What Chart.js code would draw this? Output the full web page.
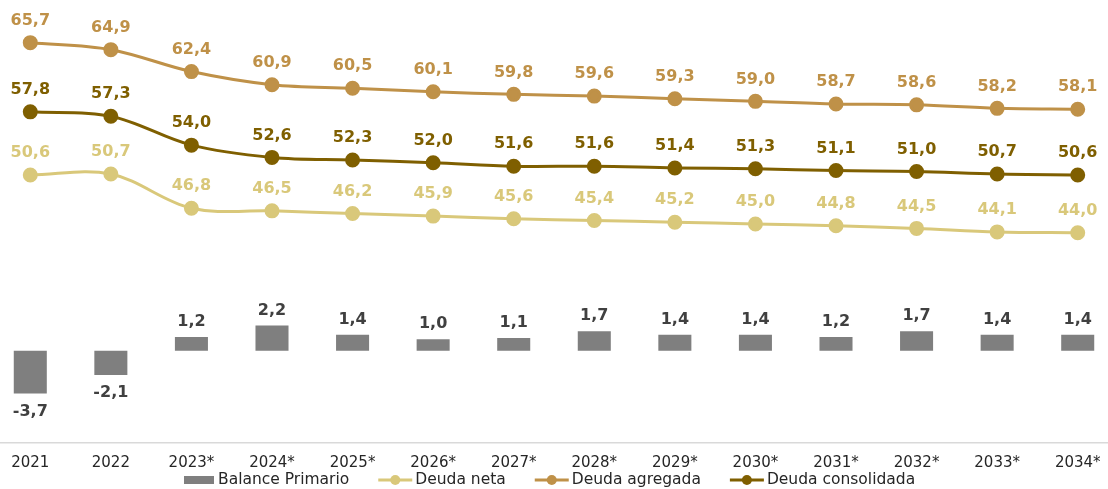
<!DOCTYPE html>
<html>
<head>
<meta charset="utf-8">
<script src="https://cdn.jsdelivr.net/npm/chart.js@4.4.0/dist/chart.umd.min.js"></script>
<style>
  html, body { margin: 0; padding: 0; background: #fff; overflow: hidden; }
  #wrap { position: absolute; left: -10px; top: 0; width: 1128px; height: 489px; }
</style>
</head>
<body>
<div id="wrap"><canvas id="c"></canvas></div>
<script>
const categories = ['2021','2022','2023*','2024*','2025*','2026*','2027*','2028*','2029*','2030*','2031*','2032*','2033*','2034*'];
const balancePrimario = [-3.7, -2.1, 1.2, 2.2, 1.4, 1.0, 1.1, 1.7, 1.4, 1.4, 1.2, 1.7, 1.4, 1.4];
const deudaNeta = [50.6, 50.7, 46.8, 46.5, 46.2, 45.9, 45.6, 45.4, 45.2, 45.0, 44.8, 44.5, 44.1, 44.0];
const deudaAgregada = [65.7, 64.9, 62.4, 60.9, 60.5, 60.1, 59.8, 59.6, 59.3, 59.0, 58.7, 58.6, 58.2, 58.1];
const deudaConsolidada = [57.8, 57.3, 54.0, 52.6, 52.3, 52.0, 51.6, 51.6, 51.4, 51.3, 51.1, 51.0, 50.7, 50.6];

const C_BAR = '#7f7f7f', C_NETA = '#d9c87a', C_AGR = '#bf9148', C_CONS = '#7f5f00';
const FONT = "'DejaVu Sans', Verdana, sans-serif";

function fmt(v) { return v.toFixed(1).replace('.', ','); }

const labelPlugin = {
  id: 'valueLabels',
  afterDatasetsDraw(chart) {
    const ctx = chart.ctx;
    ctx.save();
    ctx.font = 'bold 16px ' + FONT;
    ctx.textAlign = 'center';
    ctx.textBaseline = 'middle';
    chart.data.datasets.forEach((ds, i) => {
      const meta = chart.getDatasetMeta(i);
      meta.data.forEach((el, j) => {
        const v = ds.data[j];
        let y;
        if (ds.type === 'bar') {
          ctx.fillStyle = '#404040';
          y = v >= 0 ? el.y - 15 : el.y + 18;
        } else {
          ctx.fillStyle = ds.borderColor;
          y = el.y - 22;
        }
        ctx.fillText(fmt(v), el.x, y);
      });
    });
    ctx.restore();
  }
};

const legendPlugin = {
  id: 'customLegend',
  afterDraw(chart) {
    const ctx = chart.ctx;
    ctx.save();
    ctx.font = '15.5px ' + FONT;
    ctx.textBaseline = 'middle';
    ctx.textAlign = 'left';
    const yc = 480;
    let x = 194;
    const items = [
      {t: 'Balance Primario', kind: 'box', c: C_BAR},
      {t: 'Deuda neta', kind: 'line', c: C_NETA},
      {t: 'Deuda agregada', kind: 'line', c: C_AGR},
      {t: 'Deuda consolidada', kind: 'line', c: C_CONS}
    ];
    items.forEach(it => {
      if (it.kind === 'box') {
        ctx.fillStyle = it.c;
        ctx.fillRect(x, yc - 4, 30, 8);
        x += 34;
      } else {
        ctx.strokeStyle = it.c;
        ctx.lineWidth = 3;
        ctx.beginPath();
        ctx.moveTo(x, yc);
        ctx.lineTo(x + 34, yc);
        ctx.stroke();
        ctx.fillStyle = it.c;
        ctx.beginPath();
        ctx.arc(x + 17, yc, 5, 0, Math.PI * 2);
        ctx.fill();
        x += 37;
      }
      ctx.fillStyle = '#262626';
      ctx.fillText(it.t, x, yc);
      x += ctx.measureText(it.t).width + 29;
    });
    ctx.restore();
  }
};

function lineDs(label, data, color) {
  return {
    type: 'line', label, data, yAxisID: 'y1',
    borderColor: color, backgroundColor: color,
    borderWidth: 3, pointRadius: 6, pointHoverRadius: 6,
    pointBackgroundColor: color, pointBorderColor: color,
    tension: 0.35, fill: false, order: 1
  };
}

new Chart(document.getElementById('c'), {
  data: {
    labels: categories,
    datasets: [
      { type: 'bar', label: 'Balance Primario', data: balancePrimario, yAxisID: 'y',
        backgroundColor: C_BAR, barPercentage: 0.41, categoryPercentage: 1.0, order: 2 },
      lineDs('Deuda neta', deudaNeta, C_NETA),
      lineDs('Deuda agregada', deudaAgregada, C_AGR),
      lineDs('Deuda consolidada', deudaConsolidada, C_CONS)
    ]
  },
  options: {
    responsive: true,
    maintainAspectRatio: false,
    animation: false,
    layout: { autoPadding: false, padding: { top: 5, left: 0, right: 0, bottom: 0 } },
    plugins: { legend: { display: false }, tooltip: { enabled: false } },
    scales: {
      x: {
        offset: true,
        grid: { display: true, drawOnChartArea: false, drawTicks: false, color: 'rgba(0,0,0,0)' },
        border: { display: true, color: '#d9d9d9', width: 1.5 },
        ticks: { color: '#262626', font: { family: FONT, size: 15 }, padding: 11, maxRotation: 0, autoSkip: false },
        afterFit(scale) { scale.height = 46; scale.paddingLeft = 0; scale.paddingRight = 0; }
      },
      y: { display: false, min: -8, max: 30 },
      y1: { display: false, min: 20, max: 70 }
    }
  },
  plugins: [labelPlugin, legendPlugin]
});
</script>
</body>
</html>
